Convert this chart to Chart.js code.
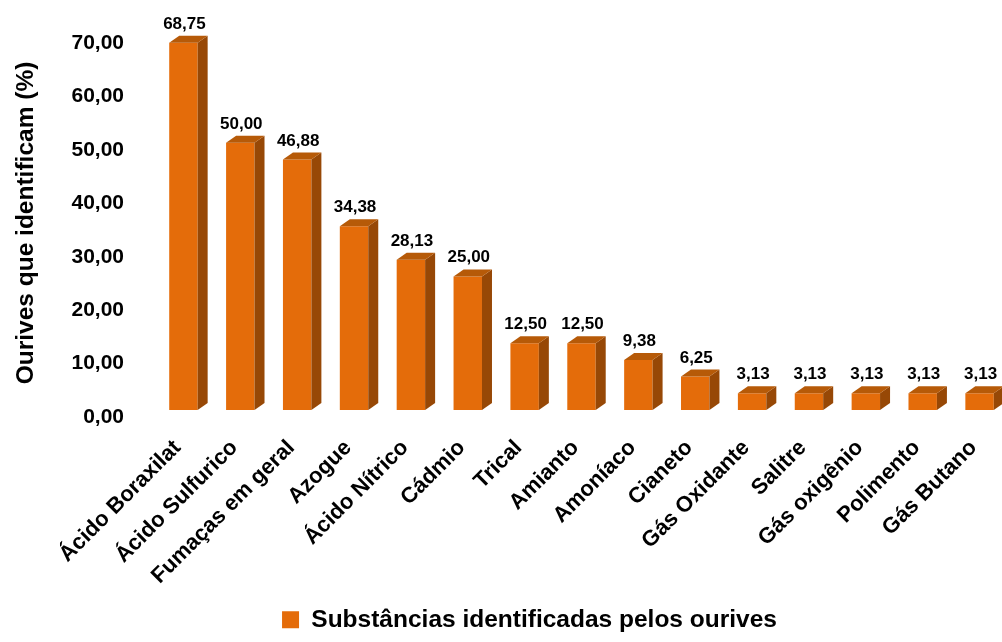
<!DOCTYPE html>
<html>
<head>
<meta charset="utf-8">
<script src="https://cdn.jsdelivr.net/npm/chart.js@4.4.1/dist/chart.umd.min.js"></script>
<style>
    html, body { margin: 0; padding: 0; background: #fff; overflow: hidden; }
    #wrap { width: 1002px; height: 642px; overflow: hidden; }
    #box { width: 1059px; height: 642px; }
</style>
</head>
<body>
<div id="wrap"><div id="box"><canvas id="myBarChart"></canvas></div></div>
<script>
var substancias = ["Ácido Boraxilat", "Ácido Sulfurico", "Fumaças em geral", "Azogue", "Ácido Nítrico",
    "Cádmio", "Trical", "Amianto", "Amoníaco", "Cianeto", "Gás Oxidante", "Salitre",
    "Gás oxigênio", "Polimento", "Gás Butano"];
var percentuais = [68.75, 50.00, 46.88, 34.38, 28.13, 25.00, 12.50, 12.50, 9.38, 6.25, 3.13, 3.13, 3.13, 3.13, 3.13];
var eixoMin = 0;
var eixoMax = 70;
var eixoPasso = 10;
var legenda = "Substâncias identificadas pelos ourives";
var tituloY = "Ourives que identificam (%)";

var corFrente = "#E46C0A";
var corLado = "#974806";
var corTopo = "#B65A08";
var fonte = "'Liberation Sans', Arial, sans-serif";

function virgula(v) {
    return Number(v).toFixed(2).replace('.', ',');
}

// lado e topo das barras (efeito 3D) + valores em cima
var barras3d = {
    id: 'barras3d',
    afterDatasetsDraw: function (chart) {
        var ctx = chart.ctx;
        var meta = chart.getDatasetMeta(0);
        var dx = 10, dy = 7;
        ctx.save();
        meta.data.forEach(function (bar, i) {
            var p = bar.getProps(['x', 'y', 'base', 'width'], true);
            var esq = p.x - p.width / 2;
            var dir = p.x + p.width / 2;

            ctx.fillStyle = corLado;
            ctx.beginPath();
            ctx.moveTo(dir, p.y);
            ctx.lineTo(dir + dx, p.y - dy);
            ctx.lineTo(dir + dx, p.base - dy);
            ctx.lineTo(dir, p.base);
            ctx.closePath();
            ctx.fill();

            ctx.fillStyle = corTopo;
            ctx.beginPath();
            ctx.moveTo(esq, p.y);
            ctx.lineTo(esq + dx, p.y - dy);
            ctx.lineTo(dir + dx, p.y - dy);
            ctx.lineTo(dir, p.y);
            ctx.closePath();
            ctx.fill();

            ctx.fillStyle = '#000';
            ctx.font = 'bold 17px ' + fonte;
            ctx.textAlign = 'center';
            ctx.textBaseline = 'alphabetic';
            ctx.fillText(virgula(percentuais[i]), p.x + 1, p.y - dy - 7);
        });
        ctx.restore();
    }
};

var ctx = document.getElementById("myBarChart");

new Chart(ctx, {
    type: "bar",
    data: {
        labels: substancias,
        datasets: [{
            label: legenda,
            data: percentuais,
            backgroundColor: corFrente,
            borderWidth: 0,
            barPercentage: 0.5,
            categoryPercentage: 1
        }]
    },
    options: {
        responsive: true,
        maintainAspectRatio: false,
        animation: false,
        layout: {
            padding: { top: 36, left: 0, right: 0, bottom: 0 }
        },
        plugins: {
            legend: {
                position: 'bottom',
                labels: {
                    color: '#000',
                    boxWidth: 17,
                    boxHeight: 17,
                    padding: 0,
                    font: { family: fonte, size: 24.5, weight: 'bold' }
                }
            },
            tooltip: { enabled: false }
        },
        scales: {
            x: {
                grid: { display: false, drawTicks: false },
                border: { display: false },
                ticks: {
                    autoSkip: false,
                    maxRotation: 45,
                    minRotation: 45,
                    padding: 25,
                    labelOffset: -6,
                    color: '#000',
                    font: { family: fonte, size: 22, weight: 'bold' }
                },
                // fundo do grafico fica em ~410px
                afterFit: function (s) { s.height = s.chart.height - 410 - s.chart.legend.height; }
            },
            y: {
                min: eixoMin,
                max: eixoMax,
                grid: { display: false, drawTicks: false },
                border: { display: false },
                ticks: {
                    stepSize: eixoPasso,
                    padding: 31,
                    labelOffset: 7,
                    color: '#000',
                    font: { family: fonte, size: 21, weight: 'bold' },
                    callback: function (v) { return virgula(v); }
                },
                title: {
                    display: true,
                    text: tituloY,
                    color: '#000',
                    padding: { top: 12, bottom: 0 },
                    font: { family: fonte, size: 24.5, weight: 'bold' }
                },
                afterFit: function (s) {
                    s.width = 155;
                    s.paddingTop = 0;
                    s.paddingBottom = 0;
                }
            },
            // eixo vazio so para reservar espaco a direita
            y1: {
                position: 'right',
                grid: { display: false, drawTicks: false },
                border: { display: false },
                ticks: { display: false },
                afterFit: function (s) { s.width = 51; }
            }
        }
    },
    plugins: [barras3d]
});
</script>
</body>
</html>
